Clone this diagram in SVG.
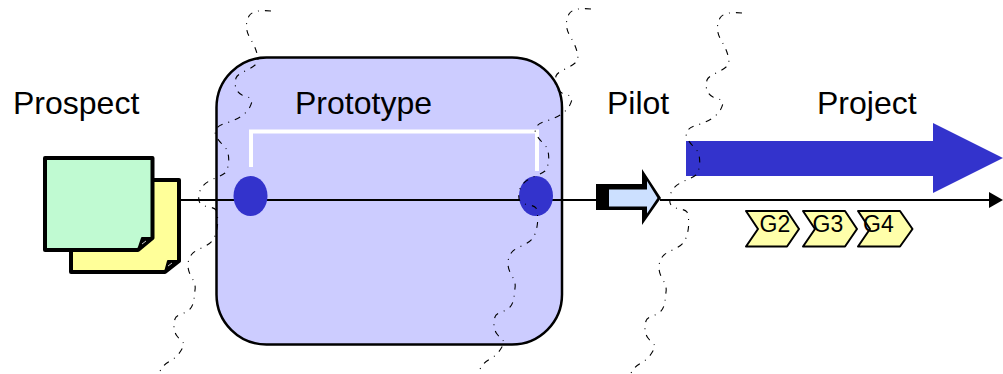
<svg xmlns="http://www.w3.org/2000/svg" xmlns:xlink="http://www.w3.org/1999/xlink" width="1003" height="374" viewBox="0 0 1003 374">
<style>
text{font-family:"Liberation Sans",Arial,sans-serif;fill:#000}
.lbl{font-size:32px}
.g{font-size:23px}
.chev{fill:#ffffaa;stroke:#000;stroke-width:2;stroke-linejoin:round}
.doc{stroke:#000;stroke-width:4;stroke-linejoin:round}
.dot{fill:#3333cc}
.wave{fill:none;stroke:#000;stroke-width:1.1;stroke-dasharray:6 6 1 6}
.ln{fill:none;stroke:#000;stroke-width:2}
.fold{fill:#000;stroke:#000;stroke-width:2;stroke-linejoin:round}
.crease{fill:none;stroke:#fff;stroke-width:0.800}
</style>
<defs>
<path id="w" d="M271,11 C260,10 252,11 249,16 C245,24 246,31 250,38 C254,45 258,52 258,62 C252,70 238,72 236,78 C234,86 236,92 242,95 C248,97 252,98 252,101 C250,112 240,118 232,121 C225,124 217,124 215,132 C216,140 224,145 227,150 C230,158 229,168 225,173 C218,178 207,180 202,187 C198,193 198,200 200,203 C204,208 213,206 216,210 C219,218 218,232 213,240 C208,247 196,249 192,254 C187,260 187,268 190,274 C193,280 196,284 195,290 C194,298 194,305 190,309 C186,314 176,314 175,319 C173,326 174,332 177,336 C180,340 184,342 184,345 C181,352 176,358 170,361 C165,364 161,367 159,374"/>
</defs>
<g id="prototype-box"><rect x="216.500" y="57.500" width="345.500" height="287" rx="50" ry="50" fill="#ccccff" stroke="#000" stroke-width="2.500"/></g>
<g id="connectors">
<path class="ln" d="M180 200H598"/>
<path class="ln" d="M660 200H992"/>
<polygon points="989,192 1003,200 989,208" fill="#000"/>
<path d="M251 167V131.500H537V171" fill="none" stroke="#fff" stroke-width="4"/>
</g>
<g id="gate-left"><ellipse class="dot" cx="250.500" cy="196" rx="17" ry="20"/></g>
<g id="gate-right"><ellipse class="dot" cx="536" cy="196" rx="17" ry="20"/></g>
<g id="prospect">
<path class="doc" fill="#ffff99" d="M71 180H179V261L165 272H71Z"/>
<path class="fold" d="M165 272L168 261L179 261Z"/>
<path class="crease" d="M168 266L172 263"/>
<path class="doc" fill="#c0fad2" d="M45 158H152.500V238L138 250H45Z"/>
<path class="fold" d="M138 250L142 238L152.500 238Z"/>
<path class="crease" d="M142 244L146 241"/>
<text class="lbl" x="13" y="114">Prospect</text>
</g>
<g id="prototype-label"><text class="lbl" x="295" y="114">Prototype</text></g>
<g id="pilot">
<polygon points="596,184 642,184 642,169 661,198 642,225 642,210 596,210" fill="#000"/>
<polygon points="609,189.500 647,189.500 647,181 657.500,198 647,213.500 647,206.500 609,206.500" fill="#cce0ff"/>
<text class="lbl" x="607" y="114">Pilot</text>
</g>
<g id="project">
<polygon points="686,141 933,141 933,123 1003,158 933,193 933,176 686,176" fill="#3333cc"/>
<text class="lbl" x="817" y="114">Project</text>
</g>
<g id="g2"><polygon class="chev" points="746,211 787,211 799,229 787,246.500 746,246.500 758,229"/><text class="g" x="759.500" y="232">G2</text></g>
<g id="g3"><polygon class="chev" points="803,211 845,211 857,229 845,246.500 803,246.500 815,229"/><text class="g" x="812.500" y="232">G3</text></g>
<g id="g4"><polygon class="chev" points="858,211 900,211 912.500,229 900,246.500 858,246.500 870,229"/><text class="g" x="863" y="232">G4</text></g>
<g id="waves">
<use xlink:href="#w" href="#w" class="wave"/>
<use xlink:href="#w" href="#w" class="wave" transform="translate(320,-2)"/>
<use xlink:href="#w" href="#w" class="wave" transform="translate(471,2)"/>
</g>
</svg>
